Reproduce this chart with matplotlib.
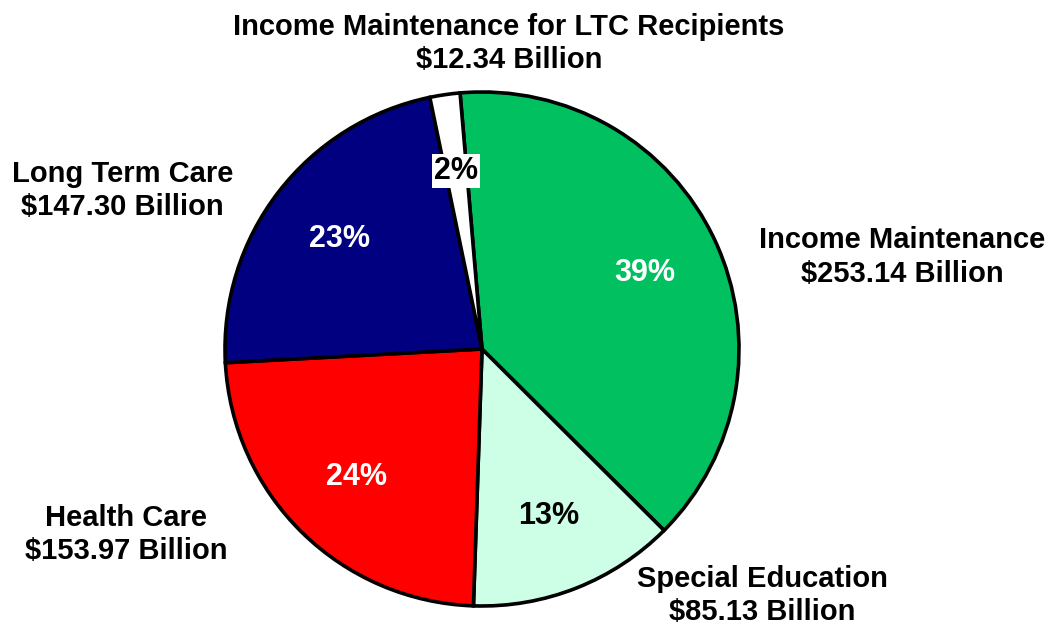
import numpy as np
import matplotlib.pyplot as plt

# === Data ===
categories = ['Income Maintenance', 'Special Education', 'Health Care',
              'Long Term Care', 'Income Maintenance for LTC Recipients']
values = [253.14, 85.13, 153.97, 147.30, 12.34]
colors = ['#00C060', '#CCFFE6', '#FF0000', '#000080', '#FFFFFF']
pct_colors = ['white', 'black', 'white', 'white', 'black']

# label positions in pie radius units (centre = 0,0)
label_pos = [(1.635, 0.358), (1.09, -0.96), (-1.385, -0.722),
             (-1.40, 0.615), (0.105, 1.19)]

plt.rcParams['font.family'] = ['Liberation Sans', 'DejaVu Sans']
plt.rcParams['font.weight'] = 'bold'

W, H = 1052, 625
cx, cy, R = 482, 349, 257
fig = plt.figure(figsize=(W / 100, H / 100), dpi=100)
ax = fig.add_axes([0, 0, 1, 1])

wedges, texts, autotexts = ax.pie(
    values, colors=colors, startangle=94.9, counterclock=False,
    radius=1, center=(0, 0), frame=True,
    autopct=lambda p: f'{p:.0f}%', pctdistance=0.70,
    wedgeprops=dict(edgecolor='black', linewidth=2.6),
    textprops=dict(fontsize=22, fontweight='bold'))
ax.set_xlim(-cx / R, (W - cx) / R)
ax.set_ylim(-(H - cy) / R, cy / R)
ax.set_aspect('equal')
ax.axis('off')

for t, c in zip(autotexts, pct_colors):
    t.set_color(c)
autotexts[4].set_bbox(dict(facecolor='white', edgecolor='none', pad=1))

for name, v, (x, y) in zip(categories, values, label_pos):
    ax.text(x, y, f'{name}\n${v:.2f} Billion', ha='center', va='center',
            fontsize=21, fontweight='bold', linespacing=1.23)

fig.savefig('out.png', dpi=100)
